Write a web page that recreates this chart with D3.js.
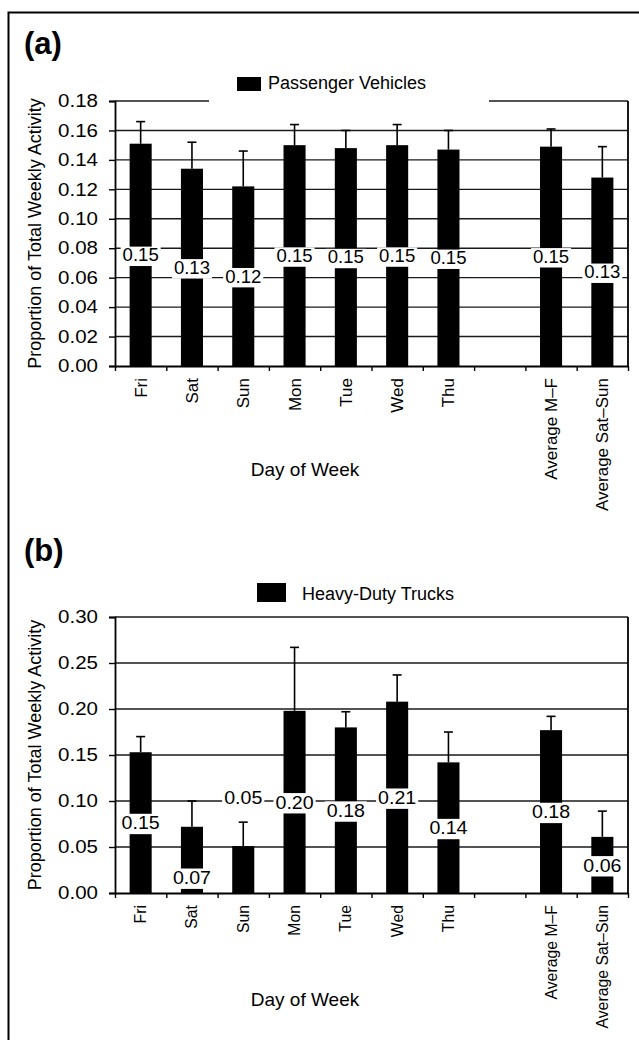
<!DOCTYPE html>
<html>
<head>
<meta charset="utf-8">
<script src="https://d3js.org/d3.v7.min.js"></script>
<style>
body { margin: 0; background: #fff; }
text { font-family: "Liberation Sans", Arial, sans-serif; fill: #000; }
</style>
</head>
<body>
<div id="chart-area"></div>
<script>
// Weekly activity, passenger vehicles (a) and heavy-duty trucks (b)
var days = ["Fri", "Sat", "Sun", "Mon", "Tue", "Wed", "Thu", "", "Average M\u2013F", "Average Sat\u2013Sun"];

var passengerMeans  = [0.151, 0.134, 0.122, 0.150, 0.148, 0.150, 0.147, null, 0.149, 0.128];
var passengerErrors = [0.015, 0.018, 0.024, 0.014, 0.012, 0.014, 0.013, null, 0.012, 0.021];
var passengerTicks  = [0.00, 0.02, 0.04, 0.06, 0.08, 0.10, 0.12, 0.14, 0.16, 0.18];

var truckMeans  = [0.153, 0.072, 0.051, 0.198, 0.180, 0.208, 0.142, null, 0.177, 0.061];
var truckErrors = [0.017, 0.028, 0.026, 0.069, 0.017, 0.029, 0.033, null, 0.015, 0.028];
var truckTicks  = [0.00, 0.05, 0.10, 0.15, 0.20, 0.25, 0.30];

// where the value labels sit (data units); null = middle of the bar
var passengerLabelAt = [null, null, null, null, null, null, null, null, null, null];
var truckLabelAt     = [null, 0.017, 0.104, null, null, null, null, null, null, null];

var W = 639, H = 1040;
var left = 115, right = 628;

var svg = d3.select("#chart-area").append("svg")
    .attr("width", W)
    .attr("height", H);

svg.append("rect").attr("width", W).attr("height", H).attr("fill", "#fff");

// outer frame
svg.append("path")
    .attr("d", "M8.5," + H + " V12.5 H" + W)
    .attr("fill", "none")
    .attr("stroke", "#000")
    .attr("stroke-width", 2);

var fmt = d3.format(".2f");

drawPanel({
    letter: "(a)", letterY: 54,
    top: 101, bottom: 366,
    means: passengerMeans, errors: passengerErrors, ticks: passengerTicks, labelAt: passengerLabelAt,
    legend: "Passenger Vehicles", legendBox: [237, 77, 24, 14], legendTextX: 268, legendTextY: 89,
    legendGap: [209, 489],
    labelFont: 17.5, catFont: 17, xTitleY: 476
});

drawPanel({
    letter: "(b)", letterY: 561,
    top: 617, bottom: 893,
    means: truckMeans, errors: truckErrors, ticks: truckTicks, labelAt: truckLabelAt,
    legend: "Heavy-Duty Trucks", legendBox: [257, 583, 29, 19], legendTextX: 302, legendTextY: 600,
    legendGap: null,
    labelFont: 18.5, catFont: 15.8, xTitleY: 1006
});

function drawPanel(p) {
    var n = days.length;
    var g = svg.append("g");

    var x = d3.scaleBand()
        .domain(d3.range(n))
        .range([left, right])
        .paddingInner(0.57)
        .paddingOuter(0.285);
    var slots = d3.scaleLinear().domain([0, n]).range([left, right]);
    var y = d3.scaleLinear()
        .domain([0, p.ticks[p.ticks.length - 1]])
        .range([p.bottom, p.top]);

    // gridlines (top one is the frame)
    g.selectAll(".grid")
        .data(p.ticks.slice(1))
        .enter().append("line")
        .attr("class", "grid")
        .attr("x1", left).attr("x2", right)
        .attr("y1", function(d) { return y(d); })
        .attr("y2", function(d) { return y(d); })
        .attr("stroke", "#1a1a1a")
        .attr("stroke-width", 1.4);

    // right frame
    g.append("line")
        .attr("x1", right).attr("x2", right)
        .attr("y1", p.top).attr("y2", p.bottom)
        .attr("stroke", "#000").attr("stroke-width", 1.8);

    // y axis
    var yAxis = d3.axisLeft(y).tickValues(p.ticks).tickFormat(fmt).tickSize(6).tickPadding(10);
    var yg = g.append("g").attr("transform", "translate(" + left + ",0)").call(yAxis);
    yg.select(".domain").attr("stroke-width", 1.8);
    yg.selectAll(".tick line").attr("stroke-width", 1.4);
    yg.selectAll("text")
        .attr("font-size", "18px")
        .attr("font-family", "Liberation Sans, Arial, sans-serif")
        .attr("transform", "scale(1.14,1)")
        .attr("x", -17 / 1.14);

    // x axis: ticks at slot edges
    var xAxis = d3.axisBottom(slots).tickValues(d3.range(n + 1)).tickFormat("").tickSize(5).tickSizeOuter(0);
    var xg = g.append("g").attr("transform", "translate(0," + p.bottom + ")").call(xAxis);
    xg.select(".domain").attr("stroke-width", 1.8);
    xg.selectAll(".tick line").attr("stroke-width", 1.4);

    // category labels
    g.selectAll(".cat")
        .data(days)
        .enter().append("text")
        .attr("class", "cat")
        .attr("transform", function(d, i) {
            return "translate(" + (x(i) + x.bandwidth() / 2) + "," + (p.bottom + 12) + ") rotate(-90)";
        })
        .attr("dy", "0.35em")
        .attr("text-anchor", "end")
        .attr("font-size", p.catFont + "px")
        .text(function(d) { return d; });

    // bars
    var rows = days.map(function(d, i) {
        return { i: i, v: p.means[i], e: p.errors[i], at: p.labelAt[i] };
    }).filter(function(d) { return d.v !== null; });

    // error bars
    var eb = g.selectAll(".err").data(rows).enter().append("g").attr("class", "err")
        .attr("stroke", "#000").attr("stroke-width", 1.6);
    eb.append("line")
        .attr("x1", function(d) { return x(d.i) + x.bandwidth() / 2; })
        .attr("x2", function(d) { return x(d.i) + x.bandwidth() / 2; })
        .attr("y1", function(d) { return y(d.v); })
        .attr("y2", function(d) { return y(d.v + d.e); });
    eb.append("line")
        .attr("x1", function(d) { return x(d.i) + x.bandwidth() / 2 - 4.5; })
        .attr("x2", function(d) { return x(d.i) + x.bandwidth() / 2 + 4.5; })
        .attr("y1", function(d) { return y(d.v + d.e); })
        .attr("y2", function(d) { return y(d.v + d.e); });

    g.selectAll(".bar")
        .data(rows)
        .enter().append("rect")
        .attr("class", "bar")
        .attr("x", function(d) { return x(d.i); })
        .attr("width", x.bandwidth())
        .attr("y", function(d) { return y(d.v); })
        .attr("height", function(d) { return p.bottom - y(d.v); })
        .attr("fill", "#000");

    // value labels on white boxes
    var sx = 1.06;
    var lab = g.selectAll(".lab").data(rows).enter().append("g").attr("class", "lab")
        .attr("transform", function(d) {
            var at = d.at === null ? d.v / 2 : d.at;
            return "translate(" + (x(d.i) + x.bandwidth() / 2) + "," + y(at) + ")";
        });
    var box = lab.append("rect").attr("fill", "#fff");
    var txt = lab.append("text")
        .attr("text-anchor", "middle")
        .attr("dy", "0.36em")
        .attr("font-size", p.labelFont + "px")
        .attr("transform", "scale(" + sx + ",1)")
        .text(function(d) { return fmt(d.v); });
    txt.each(function(d, k) {
        var b = this.getBBox();
        d3.select(box.nodes()[k])
            .attr("x", b.x * sx - 2)
            .attr("width", b.width * sx + 4)
            .attr("y", b.y + 1)
            .attr("height", b.height);
    });

    // legend
    if (p.legendGap) {
        g.append("rect")
            .attr("x", p.legendGap[0]).attr("width", p.legendGap[1] - p.legendGap[0])
            .attr("y", p.top - 4).attr("height", 8)
            .attr("fill", "#fff");
    }
    g.append("rect")
        .attr("x", p.legendBox[0]).attr("y", p.legendBox[1])
        .attr("width", p.legendBox[2]).attr("height", p.legendBox[3])
        .attr("fill", "#000");
    g.append("text")
        .attr("x", p.legendTextX).attr("y", p.legendTextY)
        .attr("font-size", "18px")
        .text(p.legend);

    // panel letter
    g.append("text")
        .attr("x", 24).attr("y", p.letterY)
        .attr("font-size", "31px")
        .attr("font-weight", "bold")
        .text(p.letter);

    // axis titles
    g.append("text")
        .attr("transform", "rotate(-90)")
        .attr("x", -(p.top + p.bottom) / 2)
        .attr("y", 41)
        .attr("text-anchor", "middle")
        .attr("font-size", "18px")
        .text("Proportion of Total Weekly Activity");
    g.append("text")
        .attr("x", 305)
        .attr("y", p.xTitleY)
        .attr("text-anchor", "middle")
        .attr("font-size", "19px")
        .text("Day of Week");
}
</script>
</body>
</html>
